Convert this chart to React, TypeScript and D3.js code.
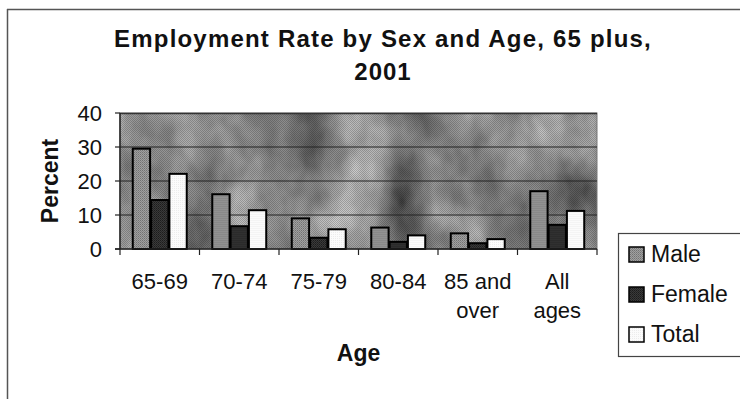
import React from "react";
import * as d3 from "d3";

const categories = ["65-69", "70-74", "75-79", "80-84", "85 and over", "All ages"];
const categoryLines = [["65-69"], ["70-74"], ["75-79"], ["80-84"], ["85 and", "over"], ["All", "ages"]];
const seriesNames = ["Male", "Female", "Total"];
const maleValues = [29.8, 16.4, 9.3, 6.6, 4.9, 17.3];
const femaleValues = [14.7, 7.0, 3.6, 2.4, 2.0, 7.4];
const totalValues = [22.4, 11.7, 6.1, 4.3, 3.2, 11.5];
const yTicks = [0, 10, 20, 30, 40];

const seriesValues = [maleValues, femaleValues, totalValues];
const seriesFill = ["url(#pMale)", "url(#pFemale)", "url(#pTotal)"];

const FONT = "'Liberation Sans', Arial, Helvetica, sans-serif";

export default function App() {
  const W = 740, H = 399;
  const plot = { left: 120, right: 597, top: 113, bottom: 249 };

  const x0 = d3.scaleBand<string>().domain(categories).range([plot.left, plot.right]).paddingInner(0).paddingOuter(0);
  const x1 = d3.scaleBand<string>().domain(seriesNames).range([0, x0.bandwidth()]).paddingInner(0).paddingOuter(0.67);
  const y = d3.scaleLinear().domain([0, 40]).range([plot.bottom, plot.top]);

  const boundaries = d3.range(categories.length + 1).map((i) => plot.left + i * x0.step());

  return (
    <svg width={W} height={H} style={{ position: "fixed", left: 0, top: 0, background: "#fff" }} fontFamily={FONT}>
      <defs>
        <filter id="granite" x="0" y="0" width="100%" height="100%" colorInterpolationFilters="sRGB">
          <feTurbulence type="fractalNoise" baseFrequency="0.018 0.012" numOctaves="4" seed="3" result="n" />
          <feColorMatrix type="matrix" values="0.33 0.33 0.33 0 0  0.33 0.33 0.33 0 0  0.33 0.33 0.33 0 0  0 0 0 0 1" />
          <feComponentTransfer>
            <feFuncR type="linear" slope="1.2" intercept="-0.03" />
            <feFuncG type="linear" slope="1.2" intercept="-0.03" />
            <feFuncB type="linear" slope="1.2" intercept="-0.03" />
          </feComponentTransfer>
        </filter>
        <pattern id="checker" width="2" height="2" patternUnits="userSpaceOnUse">
          <rect x="0" y="0" width="1" height="1" fill="#000" />
          <rect x="1" y="1" width="1" height="1" fill="#000" />
        </pattern>
        <pattern id="pMale" width="2" height="2" patternUnits="userSpaceOnUse">
          <rect width="2" height="2" fill="#a0a0a0" />
          <rect x="0" y="0" width="1" height="1" fill="#727272" />
          <rect x="1" y="1" width="1" height="1" fill="#848484" />
        </pattern>
        <pattern id="pFemale" width="2" height="2" patternUnits="userSpaceOnUse">
          <rect width="2" height="2" fill="#3a3a3a" />
          <rect x="0" y="0" width="1" height="1" fill="#1c1c1c" />
          <rect x="1" y="1" width="1" height="1" fill="#262626" />
        </pattern>
        <pattern id="pTotal" width="2" height="2" patternUnits="userSpaceOnUse">
          <rect width="2" height="2" fill="#fbfbfb" />
          <rect x="0" y="0" width="1" height="1" fill="#ececec" />
        </pattern>
      </defs>

      {/* outer frame */}
      <line x1={7} y1={9.5} x2={W} y2={9.5} stroke="#555" strokeWidth={1.5} />
      <line x1={7.5} y1={9} x2={7.5} y2={H} stroke="#555" strokeWidth={1.5} />

      {/* title */}
      <text x={383} y={47} textAnchor="middle" fontSize={24} fontWeight="bold" fill="#111" letterSpacing={1.2}>
        Employment Rate by Sex and Age, 65 plus,
      </text>
      <text x={383} y={80} textAnchor="middle" fontSize={24} fontWeight="bold" fill="#111" letterSpacing={1}>
        2001
      </text>

      {/* plot area background */}
      <rect x={plot.left} y={plot.top} width={plot.right - plot.left} height={plot.bottom - plot.top} filter="url(#granite)" />
      <rect x={plot.left} y={plot.top} width={plot.right - plot.left} height={plot.bottom - plot.top} fill="url(#checker)" opacity={0.2} />
      <rect x={plot.left} y={plot.top} width={plot.right - plot.left} height={plot.bottom - plot.top} fill="none" stroke="#777" strokeWidth={1} />
      <line x1={plot.left} x2={plot.right} y1={plot.top + 0.5} y2={plot.top + 0.5} stroke="#333" strokeWidth={1.5} />

      {/* gridlines */}
      {yTicks.filter((t) => t > 0 && t < 40).map((t) => (
        <line key={t} x1={plot.left} x2={plot.right} y1={y(t)} y2={y(t)} stroke="#222" strokeWidth={1.2} />
      ))}

      {/* bars */}
      {categories.map((c, ci) => (
        <g key={c} transform={`translate(${x0(c)},0)`}>
          {seriesNames.map((s, si) => {
            const v = seriesValues[si][ci];
            const top = y(v) + 1;
            return (
              <rect key={s} x={(x1(s) as number) + 0.5} y={top} width={x1.bandwidth() - 1} height={plot.bottom - top}
                fill={seriesFill[si]} stroke="#000" strokeWidth={2} />
            );
          })}
        </g>
      ))}

      {/* y axis */}
      <line x1={plot.left} x2={plot.left} y1={plot.top} y2={plot.bottom} stroke="#222" strokeWidth={1.5} />
      {yTicks.map((t) => (
        <g key={t}>
          <line x1={plot.left - 5} x2={plot.left} y1={y(t)} y2={y(t)} stroke="#222" strokeWidth={1.2} />
          <text x={102} y={y(t)} dy="0.36em" textAnchor="end" fontSize={22} fill="#111">{t}</text>
        </g>
      ))}

      {/* x axis */}
      <line x1={plot.left - 5} x2={plot.right} y1={plot.bottom} y2={plot.bottom} stroke="#222" strokeWidth={1.5} />
      {boundaries.map((bx, i) => (
        <line key={i} x1={bx} x2={bx} y1={plot.bottom} y2={plot.bottom + 6} stroke="#222" strokeWidth={1.2} />
      ))}
      {categories.map((c, ci) => (
        <text key={c} x={(x0(c) as number) + x0.bandwidth() / 2} y={289} textAnchor="middle" fontSize={22} fill="#111">
          {categoryLines[ci].map((ln, li) => (
            <tspan key={li} x={(x0(c) as number) + x0.bandwidth() / 2} dy={li === 0 ? 0 : 29}>{ln}</tspan>
          ))}
        </text>
      ))}

      {/* axis titles */}
      <text x={(plot.left + plot.right) / 2} y={361} textAnchor="middle" fontSize={23} fontWeight="bold" fill="#111">Age</text>
      <text transform={`translate(58,${(plot.top + plot.bottom) / 2}) rotate(-90)`} textAnchor="middle" fontSize={23} fontWeight="bold" fill="#111">Percent</text>

      {/* legend */}
      <rect x={618.5} y={233.5} width={140} height={123} fill="#fff" stroke="#444" strokeWidth={1.2} />
      {seriesNames.map((s, si) => {
        const cy = 254 + si * 40;
        return (
          <g key={s}>
            <rect x={629} y={cy - 7} width={15} height={15} fill={seriesFill[si]} stroke="#000" strokeWidth={1.5} />
            <text x={651} y={cy} dy="0.36em" fontSize={23} fill="#111">{s}</text>
          </g>
        );
      })}
    </svg>
  );
}
